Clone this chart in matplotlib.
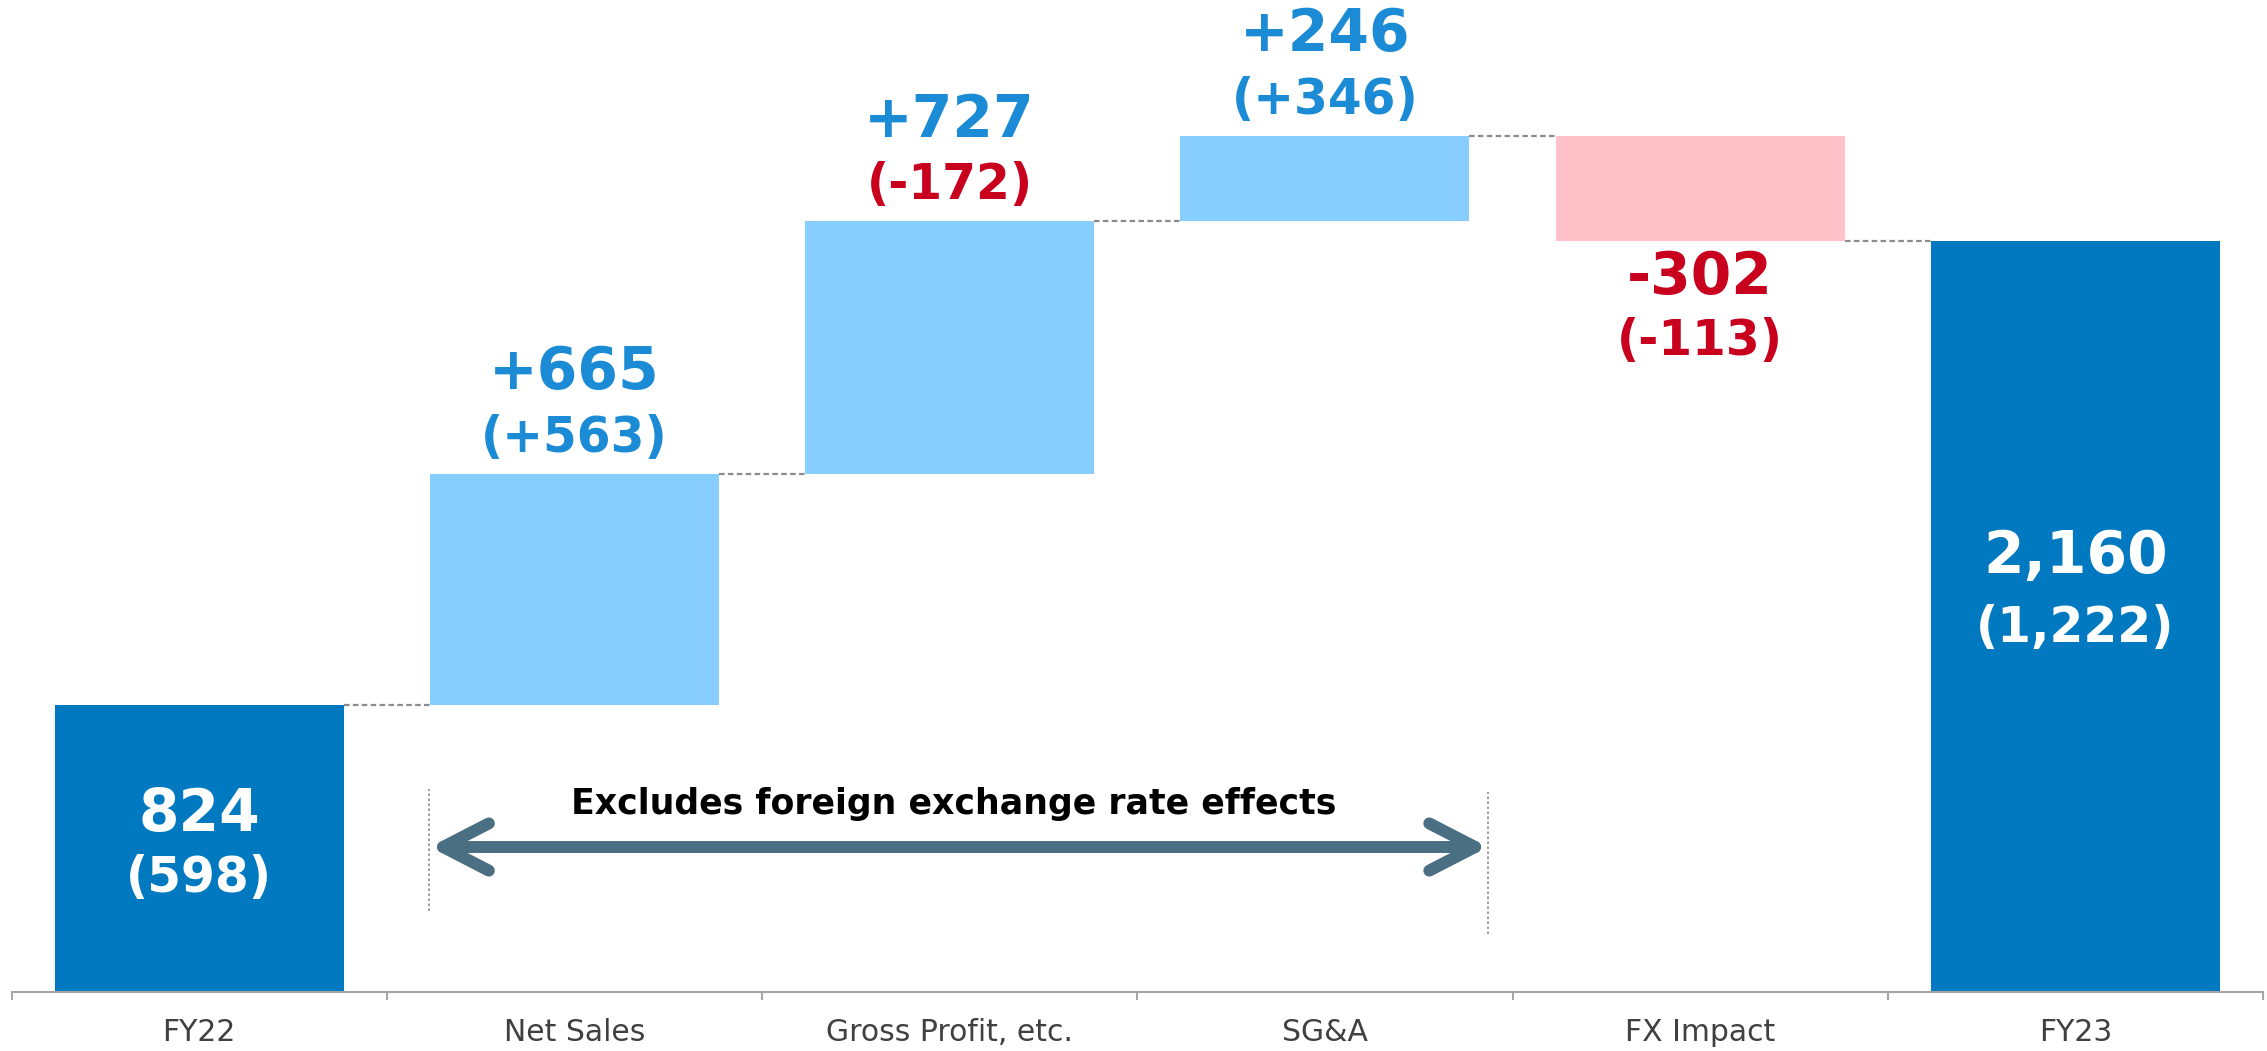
import numpy as np
import matplotlib.pyplot as plt
from matplotlib.ticker import FixedLocator

# ----- data -----
categories = ["FY22", "Net Sales", "Gross Profit, etc.", "SG&A", "FX Impact", "FY23"]
values = [824, 665, 727, 246, -302, 2160]          # totals / changes
sub_values = [598, 563, -172, 346, -113, 1222]      # figures in parentheses
is_total = [True, False, False, False, False, True]
main_labels = ["824", "+665", "+727", "+246", "-302", "2,160"]
sub_labels = ["(598)", "(+563)", "(-172)", "(+346)", "(-113)", "(1,222)"]
note_text = "Excludes foreign exchange rate effects"

# ----- style -----
DARK_BLUE = "#0079C1"
LIGHT_BLUE = "#87CEFF"
PINK = "#FFC2C9"
TXT_BLUE = "#1B8BD6"
TXT_RED = "#C8001E"
ARROW = "#4A6E82"
FONT = ["DejaVu Sans"]
bar_w = 0.77

fig = plt.figure(figsize=(22.67, 10.51), dpi=100)
ax = fig.add_axes([11.6 / 2267, 59 / 1051, (2263 - 11.6) / 2267, 992 / 1051])

x = np.arange(len(categories))
bottoms, heights, colors = [], [], []
level = 0
for v, tot in zip(values, is_total):
    if tot:
        bottoms.append(0)
        heights.append(v)
        colors.append(DARK_BLUE)
        level = v
    else:
        bottoms.append(level if v > 0 else level + v)
        heights.append(abs(v))
        colors.append(LIGHT_BLUE if v > 0 else PINK)
        level += v

ax.bar(x, heights, bottom=bottoms, width=bar_w, color=colors, edgecolor="none", zorder=2)

# dashed connectors
level = 0
for i, v in enumerate(values[:-1]):
    level = v if is_total[i] else level + v
    ax.plot([i + bar_w / 2, i + 1 - bar_w / 2], [level, level], ls=(0, (2.5, 1.5)),
            color="#8C8C8C", lw=1.6, zorder=1)

# labels
total_offsets = {0: (25, -21), 5: (43, -8)}   # points from bar middle
for i in range(len(categories)):
    bot, h = bottoms[i], heights[i]
    sub_col = TXT_BLUE if sub_values[i] > 0 else TXT_RED
    if is_total[i]:
        mid = bot + h / 2
        o1, o2 = total_offsets[i]
        pos, off1, off2, col = (i, mid), o1, o2, "white"
        sub_col = "white"
    elif values[i] > 0:
        pos, off1, off2, col = (i, bot + h), 73, 26, TXT_BLUE
    else:
        pos, off1, off2, col = (i, bot), -26, -72, TXT_RED
    ax.annotate(main_labels[i], pos, xytext=(0, off1), textcoords="offset points",
                ha="center", va="center", color=col, fontsize=42,
                fontweight="bold", family=FONT)
    ax.annotate(sub_labels[i], pos, xytext=(0, off2), textcoords="offset points",
                ha="center", va="center", color=sub_col, fontsize=35,
                fontweight="bold", family=FONT)

# FX note with double arrow
ax.plot([0.6125, 0.6125], [233, 584], ls=(0, (1.5, 1.5)), color="#8C8C8C", lw=1.2)
ax.plot([3.435, 3.435], [167, 575], ls=(0, (1.5, 1.5)), color="#8C8C8C", lw=1.2)
ax.annotate("", xy=(0.615, 417), xytext=(3.435, 417),
            arrowprops=dict(arrowstyle="<->,head_length=3.3,head_width=1.7", lw=8.6,
                            color=ARROW, shrinkA=0, shrinkB=0,
                            capstyle="round", joinstyle="round"))
ax.text(2.01, 541, note_text, ha="center", va="center", fontsize=25,
        fontweight="bold", family=FONT, color="black")

# axes
ax.set_xlim(-0.5, len(categories) - 0.5)
ax.set_ylim(0, 992 / 0.3477)
for s in ["top", "right", "left"]:
    ax.spines[s].set_visible(False)
ax.spines["bottom"].set_color("#A6A6A6")
ax.spines["bottom"].set_linewidth(1.5)
ax.set_yticks([])
ax.set_xticks(x)
ax.set_xticklabels(categories, fontsize=21.5, color="#404040", family=FONT)
ax.tick_params(axis="x", which="major", length=0, pad=19)
ax.xaxis.set_minor_locator(FixedLocator(np.arange(-0.5, len(categories), 1.0)))
ax.tick_params(axis="x", which="minor", length=6, width=1.5, color="#A6A6A6")

fig.savefig("out.png", dpi=100)
